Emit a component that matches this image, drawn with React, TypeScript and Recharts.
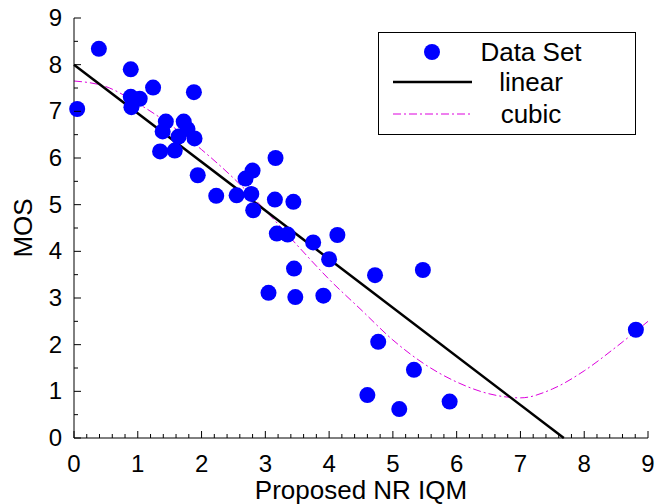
import { ComposedChart, Scatter, Line, XAxis, YAxis, Legend } from 'recharts';

// measured data (proposed NR IQM vs MOS)
const iqm = [
  0.05, 0.39, 0.89, 1.24, 0.89, 1.03, 0.9, 1.88, 1.44, 1.72, 1.39, 1.78, 1.89, 1.64, 1.35,
  1.58, 1.94, 2.8, 2.69, 2.23, 2.55, 2.78, 2.81, 3.16, 3.15, 3.44, 3.18, 3.35, 3.75, 4.13,
  4.0, 4.72, 5.47, 3.05, 3.47, 3.91, 3.45, 4.77, 5.33, 4.6, 5.1, 5.89, 8.81,
];
const mos = [
  7.05, 8.34, 7.9, 7.51, 7.31, 7.27, 7.09, 7.41, 6.78, 6.78, 6.57, 6.62, 6.42, 6.46, 6.14,
  6.16, 5.63, 5.73, 5.56, 5.19, 5.2, 5.23, 4.88, 6.0, 5.11, 5.06, 4.38, 4.36, 4.19, 4.35,
  3.83, 3.49, 3.6, 3.11, 3.02, 3.05, 3.63, 2.06, 1.46, 0.92, 0.62, 0.78, 2.32,
];

// fitted curves
const linearX = [0, 7.68];
const linearY = [8.0, 0];
const cubicX = [0, 0.5, 1, 1.5, 2, 2.5, 3, 3.5, 4, 4.5, 5, 5.5, 6, 6.5, 7, 7.5, 8, 8.5, 9];
const cubicY = [7.65, 7.53, 7.17, 6.72, 6.18, 5.57, 4.88, 4.13, 3.4, 2.75, 2.1, 1.58, 1.2, 0.95, 0.86, 1.05, 1.44, 1.95, 2.5];

const xMajor = [0, 1, 2, 3, 4, 5, 6, 7, 8, 9];
const yMajor = [0, 1, 2, 3, 4, 5, 6, 7, 8, 9];

const points = iqm.map((x, i) => ({ x, y: mos[i] }));
const linearData = linearX.map((x, i) => ({ x, y: linearY[i] }));
const cubicData = cubicX.map((x, i) => ({ x, y: cubicY[i] }));

function withMinor(major: number[], parts: number) {
  const out: number[] = [];
  for (let i = 0; i < major.length - 1; i++) {
    for (let k = 0; k < parts; k++) {
      out.push(Math.round((major[i] + ((major[i + 1] - major[i]) * k) / parts) * 1000) / 1000);
    }
  }
  out.push(major[major.length - 1]);
  return out;
}

const xTicks = withMinor(xMajor, 5);
const yTicks = withMinor(yMajor, 2);
const isMajor = (v: number) => Math.abs(v - Math.round(v)) < 1e-6;

const FONT = 24;
const LABEL_FONT = 26;
const BLUE = '#0000ff';
const MAGENTA = '#dd00dd';

function BottomTick({ x, y, payload }: any) {
  const major = isMajor(payload.value);
  return (
    <g>
      <line x1={x} y1={y} x2={x} y2={y - (major ? 7 : 4)} stroke="#000" />
      {major && (
        <text x={x} y={y + 34} textAnchor="middle" fontSize={FONT} fill="#000">
          {payload.value}
        </text>
      )}
    </g>
  );
}

function TopTick({ x, y, payload }: any) {
  const major = isMajor(payload.value);
  return <line x1={x} y1={y} x2={x} y2={y + (major ? 7 : 4)} stroke="#000" />;
}

function LeftTick({ x, y, payload }: any) {
  const major = isMajor(payload.value);
  return (
    <g>
      <line x1={x} y1={y} x2={x + (major ? 7 : 4)} y2={y} stroke="#000" />
      {major && (
        <text x={x - 12} y={y + 8} textAnchor="end" fontSize={FONT} fill="#000">
          {payload.value}
        </text>
      )}
    </g>
  );
}

function RightTick({ x, y, payload }: any) {
  const major = isMajor(payload.value);
  return <line x1={x} y1={y} x2={x - (major ? 7 : 4)} y2={y} stroke="#000" />;
}

function LegendBox() {
  return (
    <svg width={258} height={103} style={{ display: 'block' }}>
      <rect x={0.5} y={0.5} width={257} height={102} fill="#fff" stroke="#000" />
      <circle cx={54} cy={20} r={8} fill={BLUE} />
      <text x={153} y={29} textAnchor="middle" fontSize={LABEL_FONT} fill="#000">Data Set</text>
      <line x1={15} y1={50} x2={94} y2={50} stroke="#000" strokeWidth={2.5} />
      <text x={153} y={59} textAnchor="middle" fontSize={LABEL_FONT} fill="#000">linear</text>
      <line x1={15} y1={82} x2={94} y2={82} stroke={MAGENTA} strokeDasharray="8 3 2 3" />
      <text x={153} y={91} textAnchor="middle" fontSize={LABEL_FONT} fill="#000">cubic</text>
    </svg>
  );
}

export default function App() {
  return (
    <div
      style={{
        position: 'absolute',
        left: 0,
        top: 0,
        width: 668,
        height: 504,
        background: '#fff',
        fontFamily: '"Liberation Sans", Arial, sans-serif',
      }}
    >
      <ComposedChart width={668} height={504} margin={{ top: 18, right: 20, bottom: 0, left: 0 }}>
        <XAxis
          dataKey="x"
          type="number"
          domain={[0, 9]}
          ticks={xTicks}
          interval={0}
          height={66}
          tickSize={0}
          tickMargin={0}
          tickLine={false}
          axisLine={{ stroke: '#000' }}
          tick={<BottomTick />}
          label={{ value: 'Proposed NR IQM', position: 'insideBottom', offset: 5, fontSize: LABEL_FONT, fill: '#000' }}
        />
        <XAxis
          xAxisId="top"
          orientation="top"
          dataKey="x"
          type="number"
          domain={[0, 9]}
          ticks={xTicks}
          interval={0}
          height={0}
          tickSize={0}
          tickMargin={0}
          tickLine={false}
          axisLine={{ stroke: '#000' }}
          tick={<TopTick />}
        />
        <YAxis
          dataKey="y"
          type="number"
          domain={[0, 9]}
          ticks={yTicks}
          interval={0}
          width={74}
          tickSize={0}
          tickMargin={0}
          tickLine={false}
          axisLine={{ stroke: '#000' }}
          tick={<LeftTick />}
          label={({ viewBox }: any) => (
            <text
              x={23}
              y={viewBox.y + viewBox.height / 2}
              transform={`rotate(-90, 23, ${viewBox.y + viewBox.height / 2})`}
              textAnchor="middle"
              dominantBaseline="central"
              fontSize={LABEL_FONT}
              fill="#000"
            >
              MOS
            </text>
          )}
        />
        <YAxis
          yAxisId="right"
          orientation="right"
          dataKey="y"
          type="number"
          domain={[0, 9]}
          ticks={yTicks}
          interval={0}
          width={0}
          tickSize={0}
          tickMargin={0}
          tickLine={false}
          axisLine={{ stroke: '#000' }}
          tick={<RightTick />}
        />
        <Legend
          layout="vertical"
          align="center"
          verticalAlign="middle"
          content={() => <LegendBox />}
          wrapperStyle={{ left: 378, top: 32, width: 258, height: 103 }}
        />
        <Line
          data={cubicData}
          dataKey="y"
          type="monotone"
          stroke={MAGENTA}
          strokeWidth={1}
          strokeDasharray="8 3 2 3"
          dot={false}
          activeDot={false}
          isAnimationActive={false}
        />
        <Line
          data={linearData}
          dataKey="y"
          type="linear"
          stroke="#000"
          strokeWidth={2.5}
          dot={false}
          activeDot={false}
          isAnimationActive={false}
        />
        <Scatter
          data={points}
          dataKey="y"
          fill={BLUE}
          isAnimationActive={false}
          shape={(p: any) => <circle cx={p.cx} cy={p.cy} r={8} fill={BLUE} />}
        />
      </ComposedChart>
    </div>
  );
}
